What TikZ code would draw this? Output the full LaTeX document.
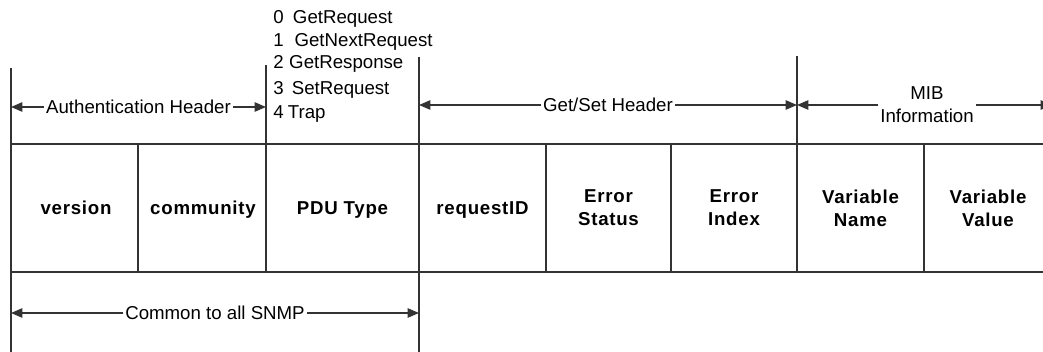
\documentclass[tikz,border=0pt]{standalone}
\usepackage{fontspec}
\setmainfont{Liberation Sans}
\newfontfamily\fieldfont[LetterSpace=4]{Liberation Sans}
\usetikzlibrary{arrows.meta}

\begin{document}
\begin{tikzpicture}[x=0.75pt,y=-0.75pt,
  rule/.style={line width=1.1pt, draw=black!80},
  dim/.style={rule, {Triangle[length=8.5pt,width=7pt]}-{Triangle[length=8.5pt,width=7pt]}},
  field/.style={font=\fieldfont\bfseries\fontsize{14}{17.5}\selectfont, align=center, inner sep=0pt},
  field1/.style={field, text height=10pt, text depth=3pt},
  lbl/.style={font=\fontsize{14}{17.5}\selectfont, fill=white, inner sep=1.5pt, align=center},
  code/.style={font=\fontsize{14}{17.5}\selectfont, anchor=base west, inner sep=0pt}]
\useasboundingbox (0,0) rectangle (1043,352);
\clip (0,0) rectangle (1043,352);

% field separators
\foreach \n/\x/\ya/\yb in {a/11/68/352, b/138/144/272, c/266/65/272, d/419/57/352,
                           e/546/144/272, f/671/144/272, g/797/56/272, h/924/144/272}{
  \coordinate (\n-top) at (\x,\ya);
  \coordinate (\n-bot) at (\x,\yb);
  \draw[rule] (\n-top) -- (\n-bot);
}

% upper and lower edges of the PDU row
\coordinate (row-tl) at (11,144);
\coordinate (row-tr) at (1052,144);
\coordinate (row-bl) at (11,272);
\coordinate (row-br) at (1052,272);
\draw[rule] (row-tl) -- (row-tr);
\draw[rule] (row-bl) -- (row-br);

% fields
\node[field1] (version)   at (76,209.5)    {version};
\node[field1] (community) at (203,209.5)   {community};
\node[field1] (pdutype)   at (342.5,209.5) {PDU Type};
\node[field1] (reqid)     at (482.5,209.5) {requestID};
\node[field] (errstat)   at (608.5,208) {Error\\Status};
\node[field] (erridx)    at (734,208)   {Error\\Index};
\node[field] (varname)   at (860.5,208) {Variable\\Name};
\node[field] (varval)    at (988,208)   {Variable\\Value};

% PDU type codes
\node[code] (code0) at (273,23.4)  {0\hspace{7pt}GetRequest};
\node[code] (code1) at (273,46.4)  {1\hspace{8.2pt}GetNextRequest};
\node[code] (code2) at (273,68.4)  {2\hspace{4.2pt}GetResponse};
\node[code] (code3) at (273,95)    {3\hspace{6.2pt}SetRequest};
\node[code] (code4) at (273,118.4) {4\hspace{3.2pt}Trap};

% span markers
\coordinate (auth-l) at (11,107);
\coordinate (auth-r) at (266,107);
\draw[dim] (auth-l) -- node[lbl] (auth) {Authentication Header} (auth-r);

\coordinate (gs-l) at (419,105);
\coordinate (gs-r) at (797,105);
\draw[dim] (gs-l) -- node[lbl] (getset) {Get/Set Header} (gs-r);

\coordinate (mib-l) at (797,105);
\coordinate (mib-r) at (1052,105);
\draw[dim] (mib-l) -- (mib-r);
\node[lbl] (mib) at (927,105) {MIB\\Information};

\coordinate (com-l) at (11,313);
\coordinate (com-r) at (419,313);
\draw[dim] (com-l) -- node[lbl] (common) {Common to all SNMP} (com-r);
\end{tikzpicture}
\end{document}
